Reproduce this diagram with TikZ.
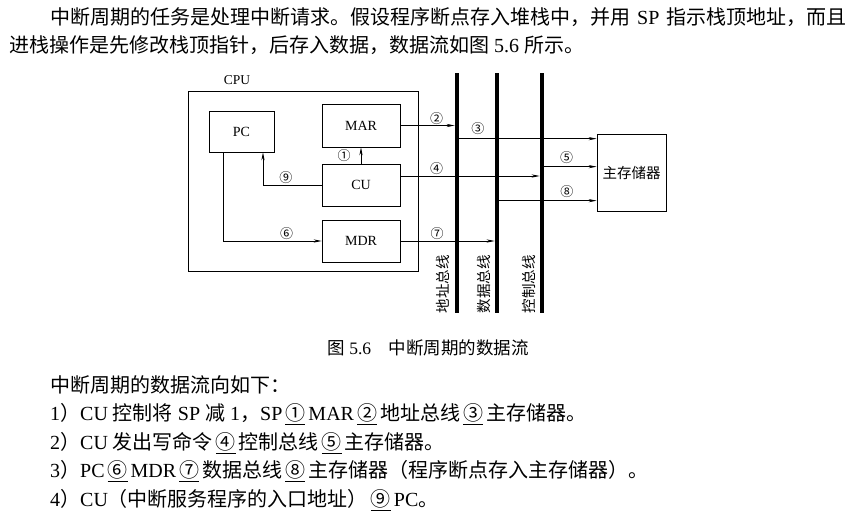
\documentclass[tikz,border=0pt]{standalone}
\usepackage{fontspec}
\setmainfont{Liberation Serif}
\newfontfamily\cjk{Noto Sans CJK SC}
\usetikzlibrary{arrows.meta}
\newcommand\cn[1]{{\cjk #1}}
\newcommand\ucn[1]{\hspace{3pt}\underline{\cjk #1}\hspace{3pt}}
\tikzset{
  box/.style={draw, line width=0.7pt, inner sep=0pt, font=\fontsize{14}{16}\selectfont},
  conn/.style={line width=0.7pt},
  arr/.style={line width=0.7pt, -{Stealth[length=8pt,width=3.2pt]}},
  num/.style={font=\cjk\fontsize{13}{15}\selectfont, inner sep=1pt},
  bus/.style={fill=black, inner sep=0pt, minimum width=4.5pt, minimum height=240pt},
  buslab/.style={rotate=90, font=\cjk\fontsize{14.5}{16}\selectfont, inner sep=0pt},
  txt/.style={anchor=base west, inner sep=0pt, font=\fontsize{20}{24}\selectfont},
}
\begin{document}
\begin{tikzpicture}[x=1pt,y=-1pt]
\useasboundingbox (0,0) rectangle (865,519);
% header text
\node[txt] (t1) at (50,25) {\cn{中断周期的任务是处理中断请求。假设程序断点存入堆栈中，并用}\hspace{2pt} SP \hspace{2pt}\cn{指示栈顶地址，而且}};
\node[txt] (t2) at (9,53) {\cn{进栈操作是先修改栈顶指针，后存入数据，数据流如图} 5.6 \cn{所示。}};
% CPU
\node[box, minimum width=230pt, minimum height=180pt] (cpu) at (303,181) {};
\node[font=\fontsize{13.5}{15}\selectfont, inner sep=0pt] (cpulab) at (237,80) {CPU};
\node[box, minimum width=65pt, minimum height=41pt] (pc) at (241.5,131.5) {PC};
\node[box, minimum width=78pt, minimum height=43pt] (mar) at (361,125.5) {MAR};
\node[box, minimum width=78pt, minimum height=42pt] (cu) at (361,185) {CU};
\node[box, minimum width=78pt, minimum height=42pt] (mdr) at (361,241) {MDR};
% memory
\node[box, minimum width=69pt, minimum height=77pt, font=\cjk\fontsize{14.5}{16}\selectfont] (mem) at (631.5,172.5) {主存储器};
% buses
\node[bus] (abus) at (457,193) {};
\node[bus] (dbus) at (497,193) {};
\node[bus] (cbus) at (542,193) {};
\node[buslab] (alab) at (443,284) {地址总线};
\node[buslab] (dlab) at (484,284) {数据总线};
\node[buslab] (clab) at (529,284) {控制总线};
% memory inputs
\coordinate (m3) at ([yshift=-5pt]mem.north west);
\coordinate (m5) at ([yshift=-33pt]mem.north west);
\coordinate (m8) at ([yshift=-67pt]mem.north west);
% connectors
\draw[arr] (cu.north) -- node[num, left=9pt] {①} (mar.south);
\draw[arr] (mar.east) -- node[num, above, pos=0.67] {②} (mar.east -| abus.west);
\draw[arr] (abus.center |- m3) -- node[num, above=3pt, pos=0.15] {③} (m3);
\draw[arr] ([yshift=9pt]cu.east) -- node[num, above, pos=0.26] {④} ([yshift=9pt]cu.east -| cbus.west);
\draw[arr] (cbus.center |- m5) -- node[num, above=2pt, pos=0.45] {⑤} (m5);
\draw[arr] ([xshift=-18.5pt]pc.south) |- node[num, above, pos=0.823] {⑥} (mdr.west);
\draw[arr] (mdr.east) -- node[num, above, pos=0.39] {⑦} (mdr.east -| dbus.west);
\draw[arr] (dbus.center |- m8) -- node[num, above=2pt, pos=0.7] {⑧} (m8);
\draw[arr] (cu.west) -| node[num, above, pos=0.305] {⑨} ([xshift=21.5pt]pc.south);
% caption
\node[anchor=base, inner sep=0pt, font=\fontsize{17.5}{20}\selectfont] (cap) at (428,354) {\cn{图} 5.6\hspace{1em}\cn{中断周期的数据流}};
% bottom text
\node[txt] (b0) at (50,392.6) {\cn{中断周期的数据流向如下：}};
\node[txt] (b1) at (50,420.6) {1\cn{）}CU \cn{控制将} SP \cn{减} 1\cn{，}SP\ucn{①}MAR\ucn{②}\cn{地址总线}\ucn{③}\cn{主存储器。}};
\node[txt] (b2) at (50,449.6) {2\cn{）}CU \cn{发出写命令}\ucn{④}\cn{控制总线}\ucn{⑤}\cn{主存储器。}};
\node[txt] (b3) at (50,477.6) {3\cn{）}PC\ucn{⑥}MDR\ucn{⑦}\cn{数据总线}\ucn{⑧}\cn{主存储器（程序断点存入主存储器）。}};
\node[txt] (b4) at (50,506.6) {4\cn{）}CU\cn{（中断服务程序的入口地址）}\ucn{⑨}PC\cn{。}};
\end{tikzpicture}
\end{document}
